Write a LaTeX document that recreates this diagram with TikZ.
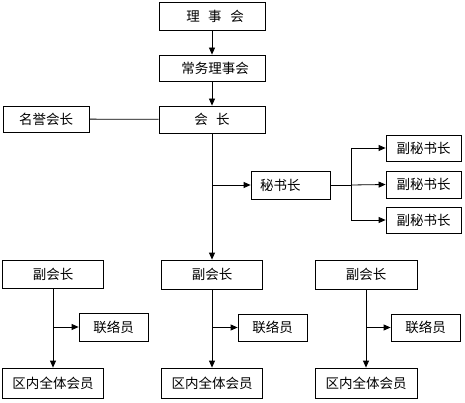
\documentclass[tikz,border=0pt]{standalone}
\usepackage{fontspec}
\setmainfont{Noto Sans CJK SC}
\usetikzlibrary{arrows.meta}
\begin{document}
\begin{tikzpicture}[x=1pt,y=-1pt,
  box/.style={draw, line width=0.8pt, inner sep=0pt, font=\fontsize{13.5}{14}\selectfont},
  arr/.style={-{Triangle[length=7pt,width=6pt]}, line width=0.8pt},
  ln/.style={line width=0.8pt}]
\useasboundingbox (0,0) rectangle (465,403);
% top chain
\node[box, minimum width=106pt, minimum height=28pt] (lsh) at (212,16) {\hspace{6pt}理\hspace{8.5pt}事\hspace{8.5pt}会};
\node[box, minimum width=106pt, minimum height=26pt] (cwl) at (212,68) {\hspace{6pt}常务理事会};
\node[box, minimum width=106pt, minimum height=27pt] (hz) at (212,119.5) {会\hspace{8.5pt}长};
\node[box, minimum width=86pt, minimum height=26pt] (myhz) at (46,119) {名誉会长};
% secretary
\node[box, minimum height=28pt, text width=61pt, inner xsep=9pt, align=left] (msz) at (290.5,185) {秘书长};
\node[box, minimum width=75pt, minimum height=26pt] (fms1) at (423.5,148) {副秘书长};
\node[box, minimum width=75pt, minimum height=27pt] (fms2) at (423.5,184.5) {副秘书长};
\node[box, minimum width=75pt, minimum height=26pt] (fms3) at (423.5,220) {副秘书长};
% vice presidents
\node[box, minimum width=101pt, minimum height=28pt] (fhz1) at (53,274) {副会长};
\node[box, minimum width=101pt, minimum height=29pt] (fhz2) at (212,274.5) {副会长};
\node[box, minimum width=102pt, minimum height=29pt] (fhz3) at (366,274.5) {副会长};
\node[box, minimum width=69pt, minimum height=28pt] (llr1) at (113.5,327) {联络员};
\node[box, minimum width=69pt, minimum height=27pt] (llr2) at (272.5,327.5) {联络员};
\node[box, minimum width=69pt, minimum height=27pt] (llr3) at (425.5,327.5) {联络员};
\node[box, minimum width=101pt, minimum height=30pt] (qn1) at (53,383) {区内全体会员};
\node[box, minimum width=101pt, minimum height=30pt] (qn2) at (212,383) {区内全体会员};
\node[box, minimum width=102pt, minimum height=30pt] (qn3) at (366,383) {区内全体会员};
% coordinates
\coordinate (j1) at (212,185);
\coordinate (j2) at (351,185);
\coordinate (j2t) at (351,148);
\coordinate (j2b) at (351,220);
\coordinate (k1) at (53,327);
\coordinate (k2) at (212,327.5);
\coordinate (k3) at (366,327.5);
% connectors
\draw[arr] (lsh) -- (cwl);
\draw[arr] (cwl) -- (hz);
\draw[ln] (myhz) -- (hz);
\draw[arr] (hz) -- (fhz2);
\draw[arr] (j1) -- (msz.west);
\draw[ln] (msz.east) -- (j2);
\draw[ln] (j2t) -- (j2b);
\draw[arr] (j2t) -- (fms1.west);
\draw[arr] (j2) -- (fms2.west);
\draw[arr] (j2b) -- (fms3.west);
\draw[arr] (fhz1) -- (qn1);
\draw[arr] (fhz2) -- (qn2);
\draw[arr] (fhz3) -- (qn3);
\draw[arr] (k1) -- (llr1.west);
\draw[arr] (k2) -- (llr2.west);
\draw[arr] (k3) -- (llr3.west);
\end{tikzpicture}
\end{document}
